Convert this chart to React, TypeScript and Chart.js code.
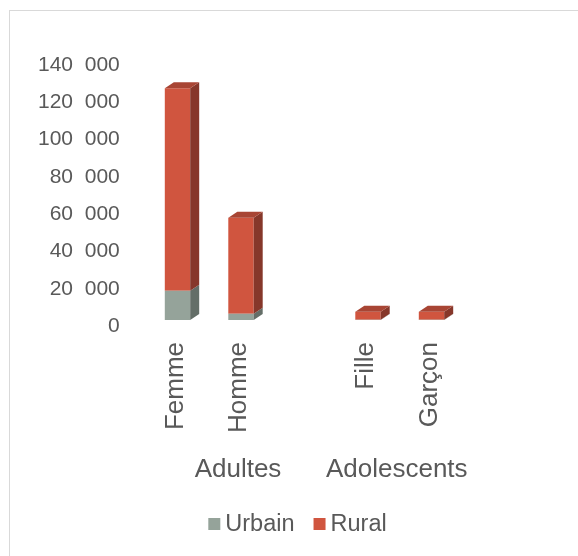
import React, { useEffect, useRef } from 'react';
import { Chart, registerables } from 'chart.js';

Chart.register(...registerables);

// ---- Data ----
const CATEGORIES = ['Femme', 'Homme', '', 'Fille', 'Garçon'];
const GROUP_LABELS = ['Adultes', 'Adolescents'];
const GROUP_FIRST = [0, 3];
const GROUP_LAST = [2, 4];
const SERIES_NAMES = ['Urbain', 'Rural'];
const URBAIN = [15700, 3400, null, 200, 200];
const RURAL = [108600, 51500, null, 4200, 4200];
const Y_MAX = 140000;
const Y_STEP = 20000;

// ---- Styles ----
const FONT = '"Liberation Sans", Arial, sans-serif';
const TEXT_COLOR = '#595959';
const FRONT = ['#95A39A', '#D0553F'];
const SIDE = ['#646E68', '#86372A'];
const TOP = ['#7D8A82', '#A84534'];

const formatTick = (v: number | string) =>
  String(v).replace(/\B(?=(\d{3})+(?!\d))/g, '\u2007');

const bar3d = {
  id: 'bar3d',
  afterDatasetsDraw(chart: any) {
    const ctx = chart.ctx;
    const dx = 9;
    const dy = 6;
    const n = chart.data.labels.length;
    ctx.save();
    for (let i = 0; i < n; i++) {
      let topDs = -1;
      chart.data.datasets.forEach((ds: any, d: number) => {
        const v = ds.data[i];
        if (v != null && v > 0) topDs = d;
      });
      chart.data.datasets.forEach((ds: any, d: number) => {
        const v = ds.data[i];
        const el = chart.getDatasetMeta(d).data[i];
        if (!el || v == null || v <= 0) return;
        const { x, y, base, width } = el.getProps(['x', 'y', 'base', 'width'], true);
        const left = x - width / 2;
        const right = x + width / 2;
        const top = Math.min(y, base);
        const bottom = Math.max(y, base);
        ctx.fillStyle = SIDE[d];
        ctx.beginPath();
        ctx.moveTo(right, bottom);
        ctx.lineTo(right + dx, bottom - dy);
        ctx.lineTo(right + dx, top - dy);
        ctx.lineTo(right, top);
        ctx.closePath();
        ctx.fill();
        if (d === topDs) {
          ctx.fillStyle = TOP[d];
          ctx.beginPath();
          ctx.moveTo(left, top);
          ctx.lineTo(right, top);
          ctx.lineTo(right + dx, top - dy);
          ctx.lineTo(left + dx, top - dy);
          ctx.closePath();
          ctx.fill();
        }
      });
    }
    ctx.restore();
  },
};

const groupLabels = {
  id: 'groupLabels',
  afterDraw(chart: any) {
    const ctx = chart.ctx;
    const xs = chart.scales.x;
    ctx.save();
    ctx.font = `26px ${FONT}`;
    ctx.fillStyle = TEXT_COLOR;
    ctx.textAlign = 'center';
    ctx.textBaseline = 'alphabetic';
    GROUP_LABELS.forEach((g, k) => {
      const cx = (xs.getPixelForValue(GROUP_FIRST[k]) + xs.getPixelForValue(GROUP_LAST[k])) / 2;
      ctx.fillText(g, cx - 3, xs.top + 157);
    });
    ctx.restore();
  },
};

const customLegend = {
  id: 'customLegend',
  afterDraw(chart: any) {
    const ctx = chart.ctx;
    ctx.save();
    ctx.font = `23.5px ${FONT}`;
    const box = 12;
    const gap = 5;
    const spacing = 19;
    const items = chart.data.datasets.map((ds: any, d: number) => ({
      text: ds.label,
      color: FRONT[d],
      w: box + gap + ctx.measureText(ds.label).width,
    }));
    const total =
      items.reduce((s: number, it: any) => s + it.w, 0) + spacing * (items.length - 1);
    const ca = chart.chartArea;
    let x = (ca.left + ca.right) / 2 - 7 - total / 2;
    ctx.textBaseline = 'alphabetic';
    ctx.textAlign = 'left';
    items.forEach((it: any) => {
      ctx.fillStyle = it.color;
      ctx.fillRect(x, 518, box, box);
      ctx.fillStyle = TEXT_COLOR;
      ctx.fillText(it.text, x + box + gap, 531);
      x += it.w + spacing;
    });
    ctx.restore();
  },
};

export default function App() {
  const canvasRef = useRef<HTMLCanvasElement | null>(null);

  useEffect(() => {
    const canvas = canvasRef.current;
    if (!canvas) return;
    const chart = new Chart(canvas, {
      type: 'bar',
      data: {
        labels: CATEGORIES,
        datasets: [
          { label: SERIES_NAMES[0], data: URBAIN as any, backgroundColor: FRONT[0] },
          { label: SERIES_NAMES[1], data: RURAL as any, backgroundColor: FRONT[1] },
        ],
      },
      options: {
        animation: false,
        responsive: false,
        devicePixelRatio: 1,
        layout: { padding: { top: 59, right: 114.75, bottom: 0, left: 0 } },
        datasets: { bar: { categoryPercentage: 1, barPercentage: 0.4, borderWidth: 0 } },
        plugins: {
          legend: { display: false },
          tooltip: { enabled: false },
        },
        scales: {
          x: {
            stacked: true,
            grid: { display: false, drawTicks: false },
            border: { display: false },
            ticks: {
              autoSkip: false,
              minRotation: 90,
              maxRotation: 90,
              padding: 22,
              labelOffset: -2,
              color: TEXT_COLOR,
              font: { family: FONT, size: 26 },
            },
            afterFit: (s: any) => {
              s.height = 236;
            },
          },
          y: {
            stacked: true,
            min: 0,
            max: Y_MAX,
            grid: { display: false, drawTicks: false },
            border: { display: false },
            ticks: {
              stepSize: Y_STEP,
              padding: 26,
              labelOffset: 6,
              color: TEXT_COLOR,
              font: { family: FONT, size: 21 },
              callback: (v: any) => formatTick(v),
            },
            afterFit: (s: any) => {
              s.width = 145.75;
            },
          },
        },
      },
      plugins: [bar3d, groupLabels, customLegend],
    });
    return () => chart.destroy();
  }, []);

  return (
    <div>
      <div
        style={{
          position: 'fixed',
          left: 9,
          top: 10,
          width: 569,
          height: 546,
          borderTop: '1px solid #d9d9d9',
          borderLeft: '1px solid #d9d9d9',
          boxSizing: 'border-box',
        }}
      />
      <canvas
        ref={canvasRef}
        width={578}
        height={556}
        style={{ position: 'fixed', left: 0, top: 0, display: 'block' }}
      />
    </div>
  );
}
